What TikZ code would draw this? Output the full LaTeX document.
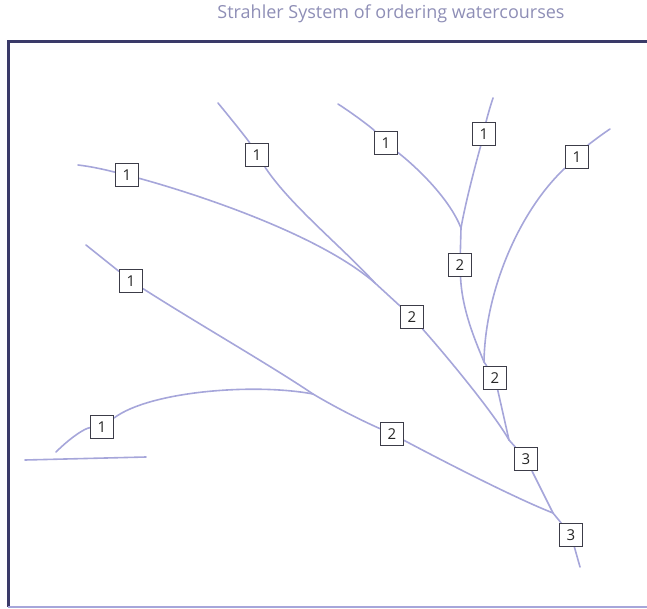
\documentclass[tikz,border=0pt]{standalone}
\usepackage{fontspec}
\setmainfont{Open Sans}
\usetikzlibrary{backgrounds}
\definecolor{titlecol}{HTML}{8E8EB6}
\definecolor{rivercol}{HTML}{A6A6DA}
\definecolor{framecol}{HTML}{3A3A68}
\definecolor{boxcol}{HTML}{3C3C48}
\tikzset{
  ordbox/.style={draw=boxcol, line width=1.1pt, fill=white, minimum width=23pt, minimum height=23pt, inner sep=0pt, font=\fontsize{15}{15}\selectfont, text=black!85},
  river/.style={draw=rivercol, line width=1.6pt, line cap=round},
}
\begin{document}
\begin{tikzpicture}[x=1pt,y=-1pt]
\useasboundingbox (0,0) rectangle (647,609);
% title
\node[text=titlecol, font=\fontsize{18}{18}\selectfont] (title) at (391,14) {Strahler System of ordering watercourses};
% frame
\draw[framecol, line width=3pt] (8,607) -- (8,42) -- (647,42);
\draw[rivercol, line width=1.2pt] (8,607) -- (647,607);
% boxes
\node[ordbox] (a1) at (127,175) {1};
\node[ordbox] (b1) at (257,155) {1};
\node[ordbox] (c1) at (386,143) {1};
\node[ordbox] (d1) at (484,134) {1};
\node[ordbox] (e1) at (577,157) {1};
\node[ordbox] (f1) at (131,281) {1};
\node[ordbox] (g1) at (102,427) {1};
\node[ordbox] (a2) at (460,265) {2};
\node[ordbox] (b2) at (412,317) {2};
\node[ordbox] (c2) at (495,378) {2};
\node[ordbox] (d2) at (392,434) {2};
\node[ordbox] (a3) at (526,459) {3};
\node[ordbox] (b3) at (571,535) {3};
% free ends and junctions
\coordinate (sa) at (78,165);
\coordinate (sb) at (218,103);
\coordinate (sc) at (338,104);
\coordinate (sd) at (493,98);
\coordinate (se) at (610,129);
\coordinate (sf) at (86,245);
\coordinate (sg) at (56,452);
\coordinate (mouth) at (580,567);
\coordinate (hl) at (25,460);
\coordinate (hr) at (146,457);
\coordinate (j1) at (375,283);
\coordinate (j2) at (461,228);
\coordinate (j3) at (484,362);
\coordinate (j4) at (509,440);
\coordinate (j5) at (313,394);
\coordinate (j6) at (553,513);
\begin{scope}[on background layer]
\draw[river] (sa) .. controls (95,167) and (110,171) .. (a1);
\draw[river] (a1) .. controls (200,195) and (320,235) .. (j1);
\draw[river] (sb) .. controls (232,120) and (248,140) .. (b1);
\draw[river] (b1) .. controls (290,205) and (340,245) .. (j1);
\draw[river] (j1) -- (b2);
\draw[river] (sc) .. controls (355,115) and (372,128) .. (c1);
\draw[river] (c1) .. controls (420,170) and (450,200) .. (j2);
\draw[river] (sd) .. controls (489,110) and (486,122) .. (d1);
\draw[river] (d1) .. controls (474,170) and (465,205) .. (j2);
\draw[river] (j2) -- (a2);
\draw[river] (a2) .. controls (462,310) and (475,340) .. (j3);
\draw[river] (se) .. controls (598,137) and (587,146) .. (e1);
\draw[river] (e1) .. controls (520,210) and (485,290) .. (j3);
\draw[river] (j3) -- (c2);
\draw[river] (c2) -- (j4);
\draw[river] (b2) .. controls (450,360) and (495,415) .. (j4);
\draw[river] (j4) -- (a3);
\draw[river] (sf) -- (f1);
\draw[river] (f1) .. controls (200,325) and (270,365) .. (j5);
\draw[river] (j5) .. controls (340,410) and (365,422) .. (d2);
\draw[river] (sg) .. controls (70,438) and (85,428) .. (g1);
\draw[river] (g1) .. controls (150,391) and (255,383) .. (j5);
\draw[river] (d2) .. controls (460,470) and (520,500) .. (j6);
\draw[river] (a3) -- (j6);
\draw[river] (j6) -- (b3);
\draw[river] (b3) -- (mouth);
\draw[river] (hl) -- (hr);
\end{scope}
\end{tikzpicture}
\end{document}
